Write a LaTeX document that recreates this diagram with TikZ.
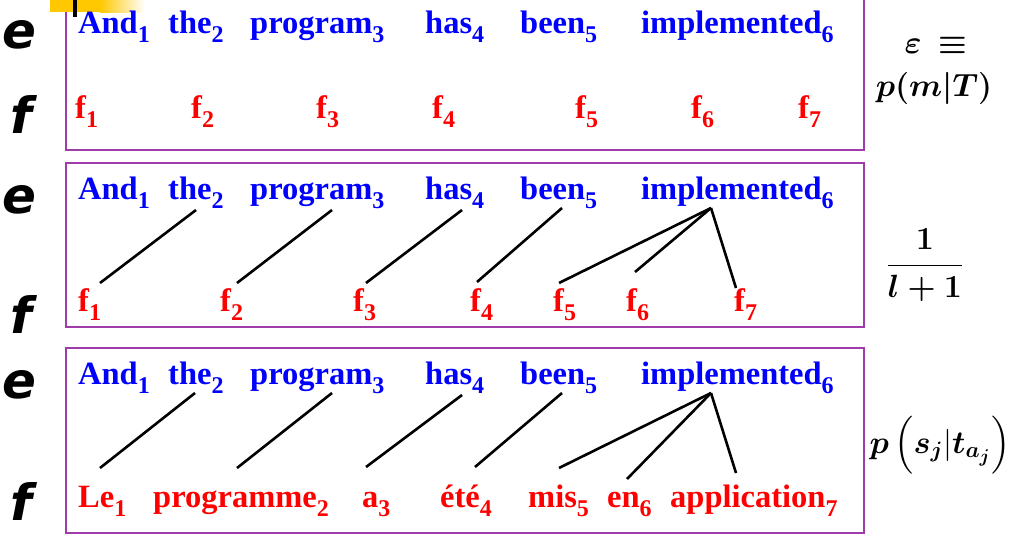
\documentclass[tikz,border=0pt]{standalone}
\usepackage{amsmath,bm}
\usepackage{fontspec}
\setmainfont{Liberation Serif}
\newfontfamily\lblfont{DejaVu Sans}
\usetikzlibrary{calc}
\definecolor{boxpurple}{RGB}{160,60,170}
\definecolor{baryellow}{RGB}{255,200,0}
\newcommand{\wsub}[2]{#1\raisebox{-9pt}{\fontsize{24}{24}\selectfont #2}}
\tikzset{
  ew/.style={anchor=base west, inner sep=0pt, text=blue, font=\bfseries\fontsize{32.5}{39}\selectfont},
  fw/.style={ew, text=red},
  lbl/.style={anchor=base west, inner sep=0pt, font=\lblfont\bfseries\itshape\fontsize{50}{60}\selectfont},
  frame/.style={draw=boxpurple, line width=2pt},
  alink/.style={line width=2.6pt, draw=black},
  mathtxt/.style={inner sep=0pt, scale=1.55, transform shape, font=\fontsize{20.74}{25}\selectfont}
}
\begin{document}
\begin{tikzpicture}[x=1pt,y=-1pt]
\useasboundingbox (0,0) rectangle (1011,538);
% frames
\draw[frame] (66,-10) rectangle (864,150);
\draw[frame] (66,163) rectangle (864,327);
\draw[frame] (66,348) rectangle (864,533);
% yellow bar artifact
\fill[fill=baryellow] (50,0) rectangle (100,12);
\shade[left color=baryellow, right color=white] (100,0) rectangle (145,12);
\fill[fill=black] (73,0) rectangle (77,17);
% left labels
\node[lbl] (le1) at (2,48) {e};
\node[lbl] (lf1) at (10,133) {f};
\node[lbl] (le2) at (2,213) {e};
\node[lbl] (lf2) at (10,333) {f};
\node[lbl] (le3) at (2,398) {e};
\node[lbl] (lf3) at (10,520) {f};
% row 1
\node[ew] (e11) at (78,33) {\wsub{And}{1}};
\node[ew] (e12) at (168,33) {\wsub{the}{2}};
\node[ew] (e13) at (250,33) {\wsub{program}{3}};
\node[ew] (e14) at (425,33) {\wsub{has}{4}};
\node[ew] (e15) at (520,33) {\wsub{been}{5}};
\node[ew] (e16) at (641,33) {\wsub{implemented}{6}};
\node[fw] (f11) at (75,118) {\wsub{f}{1}};
\node[fw] (f12) at (191,118) {\wsub{f}{2}};
\node[fw] (f13) at (316,118) {\wsub{f}{3}};
\node[fw] (f14) at (432,118) {\wsub{f}{4}};
\node[fw] (f15) at (575,118) {\wsub{f}{5}};
\node[fw] (f16) at (691,118) {\wsub{f}{6}};
\node[fw] (f17) at (798,118) {\wsub{f}{7}};
% row 2
\node[ew] (e21) at (78,199) {\wsub{And}{1}};
\node[ew] (e22) at (168,199) {\wsub{the}{2}};
\node[ew] (e23) at (250,199) {\wsub{program}{3}};
\node[ew] (e24) at (425,199) {\wsub{has}{4}};
\node[ew] (e25) at (520,199) {\wsub{been}{5}};
\node[ew] (e26) at (641,199) {\wsub{implemented}{6}};
\node[fw] (f21) at (78,311) {\wsub{f}{1}};
\node[fw] (f22) at (220,311) {\wsub{f}{2}};
\node[fw] (f23) at (353,311) {\wsub{f}{3}};
\node[fw] (f24) at (470,311) {\wsub{f}{4}};
\node[fw] (f25) at (553,311) {\wsub{f}{5}};
\node[fw] (f26) at (626,311) {\wsub{f}{6}};
\node[fw] (f27) at (734,311) {\wsub{f}{7}};
\draw[alink] ($(e22.base west)+(28,11)$) -- ($(f21.base west)+(22,-28)$);
\draw[alink] ($(e23.base west)+(82,11)$) -- ($(f22.base west)+(17,-28)$);
\draw[alink] ($(e24.base west)+(37,11)$) -- ($(f23.base west)+(13,-28)$);
\draw[alink] ($(e25.base west)+(42,9)$) -- ($(f24.base west)+(7,-29)$);
\draw[alink] ($(e26.base west)+(70,9)$) -- ($(f25.base west)+(6,-28)$);
\draw[alink] ($(e26.base west)+(70,9)$) -- ($(f26.base west)+(9,-39)$);
\draw[alink] ($(e26.base west)+(70,9)$) -- ($(f27.base west)+(2,-23)$);
% row 3
\node[ew] (e31) at (78,384) {\wsub{And}{1}};
\node[ew] (e32) at (168,384) {\wsub{the}{2}};
\node[ew] (e33) at (250,384) {\wsub{program}{3}};
\node[ew] (e34) at (425,384) {\wsub{has}{4}};
\node[ew] (e35) at (520,384) {\wsub{been}{5}};
\node[ew] (e36) at (641,384) {\wsub{implemented}{6}};
\node[fw] (f31) at (78,507) {\wsub{Le}{1}};
\node[fw] (f32) at (153,507) {\wsub{programme}{2}};
\node[fw] (f33) at (362,507) {\wsub{a}{3}};
\node[fw] (f34) at (440,507) {\wsub{été}{4}};
\node[fw] (f35) at (528,507) {\wsub{mis}{5}};
\node[fw] (f36) at (607,507) {\wsub{en}{6}};
\node[fw] (f37) at (670,507) {\wsub{application}{7}};
\draw[alink] ($(e32.base west)+(27,9)$) -- ($(f31.base west)+(22,-39)$);
\draw[alink] ($(e33.base west)+(82,9)$) -- ($(f32.base west)+(84,-39)$);
\draw[alink] ($(e34.base west)+(37,11)$) -- ($(f33.base west)+(4,-40)$);
\draw[alink] ($(e35.base west)+(42,9)$) -- ($(f34.base west)+(35,-40)$);
\draw[alink] ($(e36.base west)+(70,9)$) -- ($(f35.base west)+(31,-39)$);
\draw[alink] ($(e36.base west)+(70,9)$) -- ($(f36.base west)+(20,-28)$);
\draw[alink] ($(e36.base west)+(70,9)$) -- ($(f37.base west)+(66,-34)$);
% formulas
\node[mathtxt] (eps) at (936,45) {$\bm{\varepsilon}\ \bm{\equiv}$};
\node[mathtxt] (pmt) at (934,88) {$\bm{p(m|T)}$};
\node[mathtxt] (frc) at (925,265) {$\bm{\dfrac{1}{l+1}}$};
\node[mathtxt] (psj) at (940,445) {$\bm{p}\left(\bm{s_j}|\bm{t_{a_j}}\right)$};
\end{tikzpicture}
\end{document}
